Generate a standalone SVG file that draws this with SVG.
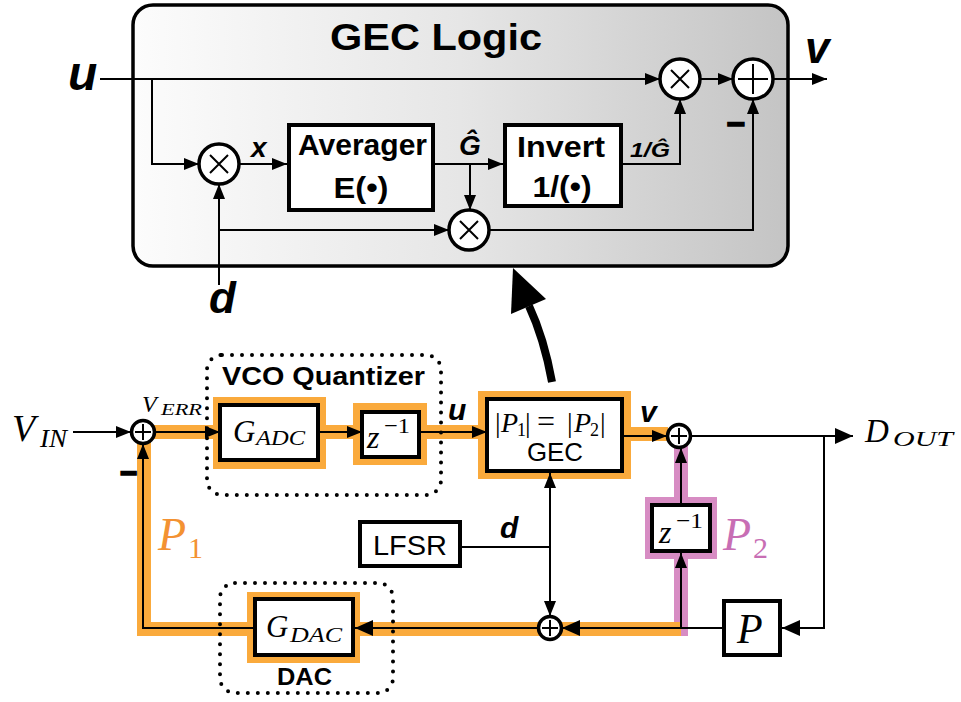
<svg xmlns="http://www.w3.org/2000/svg" width="961" height="702" viewBox="0 0 961 702">
<style>
.ln{fill:none;stroke:#000;stroke-width:2}
.box{fill:#fff;stroke:#000;stroke-width:4}
.op{fill:#fff;stroke:#000;stroke-width:3.5}
.opl{stroke:#000;stroke-width:2}
.sb{font-family:"Liberation Sans",Arial,sans-serif;font-weight:bold}
.sbi{font-family:"Liberation Sans",Arial,sans-serif;font-weight:bold;font-style:italic}
.sr{font-family:"Liberation Sans",Arial,sans-serif}
.mi{font-family:"Liberation Serif","Times New Roman",serif;font-style:italic}
.mr{font-family:"Liberation Serif","Times New Roman",serif;font-style:normal}
.dot{fill:none;stroke:#000;stroke-width:4;stroke-dasharray:0 10;stroke-linecap:round}
.orb{fill:none;stroke:#FAAA3C;stroke-width:14}
.pkb{fill:none;stroke:#D78CC3;stroke-width:14}
</style>
<defs>
<linearGradient id="gbg" x1="0" y1="0" x2="1" y2="0">
<stop offset="0" stop-color="#fcfcfc"/>
<stop offset="0.5" stop-color="#e6e6e6"/>
<stop offset="1" stop-color="#c4c4c4"/>
</linearGradient>
<marker id="ah" markerUnits="userSpaceOnUse" markerWidth="15" markerHeight="12" refX="15" refY="6" orient="auto">
<path d="M0,0 L15,6 L0,12 z" fill="#000"/>
</marker>
<marker id="ahb" markerUnits="userSpaceOnUse" markerWidth="18" markerHeight="16" refX="18" refY="8" orient="auto">
<path d="M0,0 L18,8 L0,16 z" fill="#000"/>
</marker>
</defs>

<!-- GEC Logic container -->
<g id="gec-logic">
<rect x="133" y="5" width="655" height="261" rx="20" fill="url(#gbg)" stroke="#000" stroke-width="3.5"/>
<text class="sb" x="436" y="50" text-anchor="middle" font-size="36" textLength="212" lengthAdjust="spacingAndGlyphs">GEC Logic</text>
</g>

<!-- highlight bands -->
<g id="bands">
<path class="pkb" d="M681,436 V636"/>
<path class="orb" d="M681,629 H144 V432 H485"/>
<path class="orb" d="M624,434 H668" stroke-width="12"/>
<rect x="213" y="397" width="113" height="72" fill="#FAAA3C"/>
<rect x="353" y="403" width="74" height="62" fill="#FAAA3C"/>
<rect x="478" y="391" width="153" height="88" fill="#FAAA3C"/>
<rect x="247" y="592" width="113" height="71" fill="#FAAA3C"/>
<rect x="645" y="497" width="72" height="62" fill="#D78CC3"/>
</g>

<!-- connectors -->
<g id="connectors">
<path class="ln" d="M100,79 H660" marker-end="url(#ah)"/>
<path class="ln" d="M152,79 V164 H199" marker-end="url(#ah)"/>
<path class="ln" d="M239,164 H287" marker-end="url(#ah)"/>
<path class="ln" d="M435,164 H503" marker-end="url(#ah)"/>
<path class="ln" d="M470,164 V210" marker-end="url(#ah)"/>
<path class="ln" d="M623,164 H680 V99" marker-end="url(#ah)"/>
<path class="ln" d="M700,79 H733" marker-end="url(#ah)"/>
<path class="ln" d="M773,79 H827" marker-end="url(#ah)"/>
<path class="ln" d="M219,285 V184" marker-end="url(#ah)"/>
<path class="ln" d="M219,230 H449" marker-end="url(#ah)"/>
<path class="ln" d="M489,230 H753 V99" marker-end="url(#ah)"/>
<path d="M552,382 Q544,338 529,306" fill="none" stroke="#000" stroke-width="8"/>
<path d="M513,268 L511,314 L546,299 z" fill="#000"/>

<path class="ln" d="M73,432 H131" marker-end="url(#ah)"/>
<path class="ln" d="M155,432 H220" marker-end="url(#ah)"/>
<path class="ln" d="M320,432 H362" marker-end="url(#ah)"/>
<path class="ln" d="M421,432 H487" marker-end="url(#ah)"/>
<path class="ln" d="M624,436 H667" marker-end="url(#ah)"/>
<path class="ln" d="M691,436 H853" marker-end="url(#ahb)"/>
<path class="ln" d="M824,436 V628 H782" marker-end="url(#ahb)"/>
<path class="ln" d="M722,628 H562" marker-end="url(#ahb)"/>
<path class="ln" d="M681,628 V553" marker-end="url(#ah)"/>
<path class="ln" d="M681,503 V448" marker-end="url(#ah)"/>
<path class="ln" d="M550,547 V473" marker-end="url(#ah)"/>
<path class="ln" d="M550,547 V616" marker-end="url(#ah)"/>
<path class="ln" d="M460,547 H550"/>
<path class="ln" d="M538,628 H355" marker-end="url(#ahb)"/>
<path class="ln" d="M253,628 H143 V444" marker-end="url(#ah)"/>
</g>

<!-- GEC internals -->
<g id="mult-in">
<circle class="op" cx="219" cy="164" r="20"/>
<path class="opl" d="M210,155 L228,173 M228,155 L210,173"/>
</g>
<g id="averager">
<rect class="box" x="289" y="125" width="144" height="85"/>
<text class="sb" x="298" y="155" font-size="29" textLength="129" lengthAdjust="spacingAndGlyphs">Averager</text>
<text class="sb" x="361" y="198" font-size="29" text-anchor="middle" textLength="55" lengthAdjust="spacingAndGlyphs">E(•)</text>
</g>
<g id="invert">
<rect class="box" x="505" y="125" width="116" height="81"/>
<text class="sb" x="561" y="157" font-size="29" text-anchor="middle" textLength="88" lengthAdjust="spacingAndGlyphs">Invert</text>
<text class="sb" x="562" y="197" font-size="29" text-anchor="middle" textLength="59" lengthAdjust="spacingAndGlyphs">1/(•)</text>
</g>
<g id="mult-low">
<circle class="op" cx="469" cy="230" r="20"/>
<path class="opl" d="M460,221 L478,239 M478,221 L460,239"/>
</g>
<g id="mult-top">
<circle class="op" cx="680" cy="79" r="20"/>
<path class="opl" d="M671,70 L689,88 M689,70 L671,88"/>
</g>
<g id="adder-top">
<circle class="op" cx="753" cy="79" r="20"/>
<path class="opl" d="M738,79 H768 M753,64 V94"/>
</g>
<g id="gec-labels">
<text class="sbi" x="68" y="90" font-size="48">u</text>
<text class="sbi" x="805" y="63" font-size="44">v</text>
<text class="sbi" x="209" y="313" font-size="44">d</text>
<text class="sbi" x="251" y="157" font-size="28">x</text>
<text class="sbi" x="470" y="155" font-size="28" text-anchor="middle">Ĝ</text>
<text class="sbi" x="630" y="157" font-size="20" textLength="40" lengthAdjust="spacingAndGlyphs">1/Ĝ</text>
<text class="sb" x="736" y="135" font-size="32" text-anchor="middle" stroke="#000" stroke-width="1.5">−</text>
</g>

<!-- lower loop -->
<g id="vco-quantizer">
<rect class="dot" x="207" y="355" width="234" height="140" rx="15"/>
<text class="sb" x="222" y="385" font-size="26" textLength="203" lengthAdjust="spacingAndGlyphs">VCO Quantizer</text>
</g>
<g id="adder-in">
<circle class="op" cx="143" cy="432" r="11.5"/>
<path class="opl" d="M135,432 H151 M143,424 V440"/>
</g>
<g id="gadc">
<rect class="box" x="220" y="405" width="98" height="55"/>
<text class="mi" x="233" y="442" font-size="31">G</text>
<text class="mi" x="256" y="445" font-size="21" textLength="49" lengthAdjust="spacingAndGlyphs">ADC</text>
</g>
<g id="z1-top">
<rect class="box" x="362" y="412" width="57" height="45"/>
<text class="mi" x="367" y="448" font-size="32">z</text>
<text class="mr" x="384" y="433" font-size="22" textLength="26" lengthAdjust="spacingAndGlyphs">−1</text>
</g>
<g id="gec">
<rect class="box" x="487" y="399" width="135" height="72"/>
<text class="mr" y="432" font-size="28"><tspan x="495">|</tspan><tspan class="mi" x="501">P</tspan><tspan font-size="18" x="517" dy="4">1</tspan><tspan x="525" dy="-4">|</tspan><tspan x="537" font-size="32">=</tspan><tspan x="567">|</tspan><tspan class="mi" x="574">P</tspan><tspan font-size="18" x="590" dy="4">2</tspan><tspan x="600" dy="-4">|</tspan></text>
<text class="sr" x="555" y="461" font-size="26" text-anchor="middle" textLength="56" lengthAdjust="spacingAndGlyphs">GEC</text>
</g>
<g id="adder-out">
<circle class="op" cx="679" cy="436" r="11.5"/>
<path class="opl" d="M671,436 H687 M679,428 V444"/>
</g>
<g id="z1-p2">
<rect class="box" x="652" y="505" width="58" height="46"/>
<text class="mi" x="659" y="543" font-size="32">z</text>
<text class="mr" x="676" y="528" font-size="22" textLength="27" lengthAdjust="spacingAndGlyphs">−1</text>
</g>
<g id="p-box">
<rect class="box" x="724" y="601" width="56" height="54"/>
<text class="mi" x="737" y="643" font-size="42">P</text>
</g>
<g id="lfsr">
<rect class="box" x="360" y="522" width="100" height="44"/>
<text class="sr" x="410" y="555" font-size="28" text-anchor="middle" textLength="74" lengthAdjust="spacingAndGlyphs">LFSR</text>
</g>
<g id="adder-low">
<circle class="op" cx="550" cy="628" r="11.5"/>
<path class="opl" d="M542,628 H558 M550,620 V636"/>
</g>
<g id="dac">
<rect class="dot" x="220" y="583" width="173" height="110" rx="15"/>
<rect class="box" x="255" y="599" width="98" height="56"/>
<text class="mi" x="266" y="637" font-size="31">G</text>
<text class="mi" x="290" y="642" font-size="21" textLength="52" lengthAdjust="spacingAndGlyphs">DAC</text>
<text class="sb" x="277" y="685" font-size="24" textLength="55" lengthAdjust="spacingAndGlyphs">DAC</text>
</g>
<g id="labels">
<text class="mi" x="12" y="441" font-size="38">V</text>
<text class="mi" x="40" y="447" font-size="26" textLength="27" lengthAdjust="spacingAndGlyphs">IN</text>
<text class="mi" x="142" y="412" font-size="24">V</text>
<text class="mi" x="161" y="415" font-size="16" textLength="41" lengthAdjust="spacingAndGlyphs">ERR</text>
<text class="sb" x="120" y="483" font-size="30" text-anchor="start" stroke="#000" stroke-width="1.5">−</text>
<text class="sbi" x="448" y="420" font-size="30">u</text>
<text class="sbi" x="640" y="422" font-size="30">v</text>
<text class="sbi" x="500" y="538" font-size="30">d</text>
<text class="mi" x="865" y="442" font-size="33">D</text>
<text class="mi" x="893" y="446" font-size="22" textLength="60" lengthAdjust="spacingAndGlyphs">OUT</text>
<text class="mi" x="158" y="550" font-size="46" fill="#F39232">P</text>
<text class="mr" x="188" y="558" font-size="30" fill="#F39232">1</text>
<text class="mi" x="723" y="550" font-size="46" fill="#C86EB4">P</text>
<text class="mr" x="753" y="558" font-size="30" fill="#C86EB4">2</text>
</g>
</svg>
